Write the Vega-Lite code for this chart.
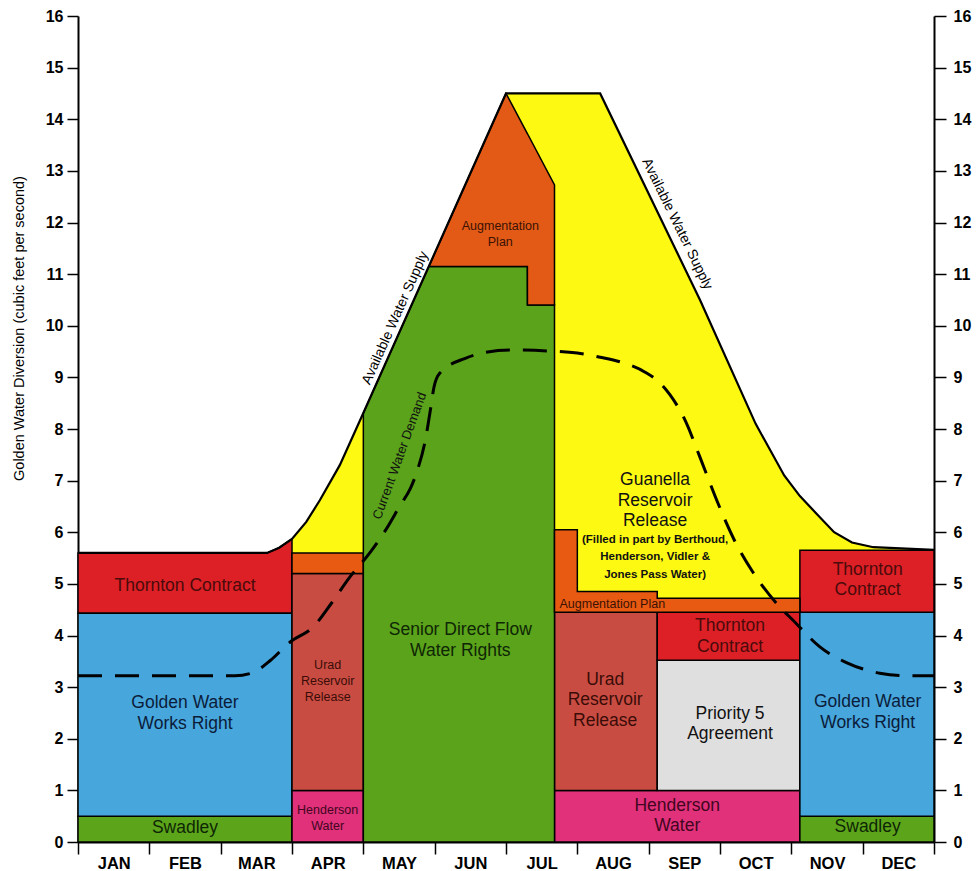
{
  "$schema": "https://vega.github.io/schema/vega-lite/v6.json",
  "width": 856,
  "height": 826,
  "autosize": {"type": "none"},
  "padding": {"left": 78, "top": 16, "right": 42, "bottom": 29},
  "background": "white",
  "config": {"view": {"stroke": null}, "font": "Liberation Sans"},
  "datasets": {
    "supply": [
      {"x": 0, "y": 5.6}, {"x": 2.65, "y": 5.6}, {"x": 2.82, "y": 5.7}, {"x": 3, "y": 5.87},
      {"x": 3.2, "y": 6.2}, {"x": 3.39, "y": 6.62}, {"x": 3.67, "y": 7.3}, {"x": 4, "y": 8.31},
      {"x": 6, "y": 14.5}, {"x": 7.32, "y": 14.5}, {"x": 8.72, "y": 10.5}, {"x": 9.5, "y": 8.1},
      {"x": 9.9, "y": 7.1}, {"x": 10.12, "y": 6.7}, {"x": 10.36, "y": 6.35}, {"x": 10.6, "y": 6.0},
      {"x": 10.85, "y": 5.8}, {"x": 11.15, "y": 5.71}, {"x": 12, "y": 5.66}
    ],
    "rects": [
      {"region": "Swadley", "x0": 0, "x1": 3, "y0": 0, "y1": 0.5},
      {"region": "Golden", "x0": 0, "x1": 3, "y0": 0.5, "y1": 4.43},
      {"region": "Henderson", "x0": 3, "x1": 4, "y0": 0, "y1": 1},
      {"region": "Urad", "x0": 3, "x1": 4, "y0": 1, "y1": 5.2},
      {"region": "Aug", "x0": 3, "x1": 4, "y0": 5.2, "y1": 5.6},
      {"region": "Henderson", "x0": 6.68, "x1": 10.12, "y0": 0, "y1": 1},
      {"region": "Urad", "x0": 6.68, "x1": 8.12, "y0": 1, "y1": 4.45},
      {"region": "Priority", "x0": 8.12, "x1": 10.12, "y0": 1, "y1": 3.52},
      {"region": "Thornton", "x0": 8.12, "x1": 10.12, "y0": 3.52, "y1": 4.45},
      {"region": "Swadley", "x0": 10.12, "x1": 12, "y0": 0, "y1": 0.5},
      {"region": "Golden", "x0": 10.12, "x1": 12, "y0": 0.5, "y1": 4.45},
      {"region": "Thornton", "x0": 10.12, "x1": 12, "y0": 4.45, "y1": 5.65}
    ],
    "senior": [
      {"x": 4, "y": 8.31}, {"x": 4.92, "y": 11.15}, {"x": 6.3, "y": 11.15},
      {"x": 6.301, "y": 10.4}, {"x": 6.68, "y": 10.4}
    ],
    "augJun": [
      {"x": 4.92, "top": 11.15, "bottom": 11.15},
      {"x": 6, "top": 14.5, "bottom": 11.15},
      {"x": 6.3, "top": 13.72, "bottom": 11.15},
      {"x": 6.301, "top": 13.72, "bottom": 10.4},
      {"x": 6.68, "top": 12.73, "bottom": 10.4}
    ],
    "augAug": [
      {"x": 6.68, "top": 6.05}, {"x": 7.0, "top": 4.85}, {"x": 8.12, "top": 4.72}, {"x": 10.12, "top": 4.72}
    ],
    "demand": [
      {"x": 0, "y": 3.22}, {"x": 2.2, "y": 3.22}, {"x": 2.45, "y": 3.28}, {"x": 2.7, "y": 3.52},
      {"x": 2.97, "y": 3.87}, {"x": 3.3, "y": 4.17}, {"x": 3.55, "y": 4.62}, {"x": 3.81, "y": 5.13},
      {"x": 4.09, "y": 5.6}, {"x": 4.33, "y": 6.08}, {"x": 4.52, "y": 6.53}, {"x": 4.66, "y": 6.85},
      {"x": 4.76, "y": 7.21}, {"x": 4.87, "y": 7.79}, {"x": 4.94, "y": 8.37}, {"x": 4.99, "y": 8.81},
      {"x": 5.07, "y": 9.08}, {"x": 5.43, "y": 9.37}, {"x": 5.7, "y": 9.48}, {"x": 6.06, "y": 9.53},
      {"x": 6.62, "y": 9.51}, {"x": 7.0, "y": 9.47}, {"x": 7.32, "y": 9.39}, {"x": 7.6, "y": 9.3},
      {"x": 7.95, "y": 9.1}, {"x": 8.16, "y": 8.89}, {"x": 8.3, "y": 8.66}, {"x": 8.5, "y": 8.2},
      {"x": 8.72, "y": 7.45}, {"x": 8.96, "y": 6.6}, {"x": 9.2, "y": 5.85}, {"x": 9.46, "y": 5.23},
      {"x": 9.84, "y": 4.55}, {"x": 10.02, "y": 4.3}, {"x": 10.4, "y": 3.78}, {"x": 10.78, "y": 3.47},
      {"x": 11.24, "y": 3.27}, {"x": 11.6, "y": 3.22}, {"x": 12, "y": 3.22}
    ],
    "labelsL": [
      {"t": "Thornton Contract", "x": 1.5, "y": 4.96, "tone": "red"},
      {"t": "Golden Water\nWorks Right", "x": 1.5, "y": 2.69, "tone": "blue"},
      {"t": "Swadley", "x": 1.5, "y": 0.27, "tone": "green"},
      {"t": "Senior Direct Flow\nWater Rights", "x": 5.36, "y": 4.1, "tone": "green"},
      {"t": "Guanella\nReservoir\nRelease", "x": 8.09, "y": 7.01, "tone": "black"},
      {"t": "Urad\nReservoir\nRelease", "x": 7.39, "y": 3.14, "tone": "urad"},
      {"t": "Thornton\nContract", "x": 9.14, "y": 4.18, "tone": "red"},
      {"t": "Priority 5\nAgreement", "x": 9.14, "y": 2.48, "tone": "black"},
      {"t": "Henderson\nWater", "x": 8.4, "y": 0.7, "tone": "pink"},
      {"t": "Thornton\nContract", "x": 11.07, "y": 5.27, "tone": "red"},
      {"t": "Golden Water\nWorks Right", "x": 11.07, "y": 2.71, "tone": "blue"},
      {"t": "Swadley", "x": 11.07, "y": 0.29, "tone": "green"}
    ],
    "labelsM": [
      {"t": "Augmentation\nPlan", "x": 5.92, "y": 11.93, "tone": "orange"},
      {"t": "Urad\nReservoir\nRelease", "x": 3.5, "y": 3.43, "tone": "urad"},
      {"t": "Henderson\nWater", "x": 3.5, "y": 0.62, "tone": "pink"},
      {"t": "Augmentation Plan", "x": 7.49, "y": 4.61, "tone": "orange"}
    ],
    "labelsS": [
      {"t": "(Filled in part by Berthoud,\nHenderson, Vidler &\nJones Pass Water)", "x": 8.09, "y": 5.85, "tone": "black"}
    ],
    "supplyLeft": [{"t": "Available Water Supply", "x": 4.45, "y": 10.15}],
    "supplyRight": [{"t": "Available Water Supply", "x": 8.4, "y": 11.97}],
    "demandLabel": [{"t": "Current   Water   Demand", "x": 4.51, "y": 7.48}]
  },
  "layer": [
    {
      "data": {"name": "supply"},
      "transform": [{"filter": "datum.x >= 3"}],
      "mark": {"type": "area", "fill": "#fdf913", "stroke": null},
      "encoding": {
        "x": {"field": "x", "type": "quantitative", "scale": {"domain": [0, 12], "nice": false, "zero": false},
          "axis": {"values": [0, 1, 2, 3, 4, 5, 6, 7, 8, 9, 10, 11, 12],
            "labelExpr": "datum.value < 12 ? ['JAN','FEB','MAR','APR','MAY','JUN','JUL','AUG','SEP','OCT','NOV','DEC'][datum.value] : ''",
            "labelOffset": 35.7, "labelFlush": false, "labelOverlap": false, "tickSize": 12, "tickWidth": 1.5, "tickColor": "black",
            "domainColor": "black", "domainWidth": 2, "labelFontSize": 16.5, "labelFontWeight": "bold", "labelColor": "black",
            "labelPadding": 1, "grid": false, "title": null}},
        "y": {"field": "y", "type": "quantitative", "stack": null, "scale": {"domain": [0, 16], "nice": false},
          "axis": {"orient": "left", "values": [0, 1, 2, 3, 4, 5, 6, 7, 8, 9, 10, 11, 12, 13, 14, 15, 16],
            "tickSize": 11, "tickWidth": 1.5, "tickColor": "black", "domainColor": "black", "domainWidth": 2,
            "labelFontSize": 16, "labelFontWeight": "bold", "labelColor": "black", "labelPadding": 4, "grid": false,
            "title": "Golden Water Diversion (cubic feet per second)", "titleFontSize": 14.5, "titleFontWeight": "normal",
            "titleColor": "black", "titleAngle": 270, "titleAlign": "center", "titleBaseline": "middle", "titleX": -59, "titleY": 312}},
        "y2": {"datum": 0}
      }
    },
    {
      "data": {"name": "supply"},
      "transform": [{"filter": "datum.x <= 3"}],
      "mark": {"type": "area", "fill": "#dd1f26", "stroke": "black", "strokeWidth": 1.5},
      "encoding": {
        "x": {"field": "x", "type": "quantitative"},
        "y": {"field": "y", "type": "quantitative", "stack": null, "axis": null},
        "y2": {"datum": 4.43}
      }
    },
    {
      "data": {"name": "rects"},
      "mark": {"type": "rect", "stroke": "black", "strokeWidth": 1.5},
      "encoding": {
        "x": {"field": "x0", "type": "quantitative"},
        "x2": {"field": "x1"},
        "y": {"field": "y0", "type": "quantitative", "axis": null},
        "y2": {"field": "y1"},
        "fill": {"field": "region", "type": "nominal", "legend": null,
          "scale": {"domain": ["Swadley", "Golden", "Thornton", "Urad", "Henderson", "Aug", "Priority"],
            "range": ["#5ca51b", "#47a6dc", "#dd1f26", "#c94c42", "#e0317a", "#e85a12", "#dfdfdf"]}}
      }
    },
    {
      "data": {"name": "senior"},
      "mark": {"type": "area", "fill": "#5aa31b", "stroke": "black", "strokeWidth": 1.5},
      "encoding": {
        "x": {"field": "x", "type": "quantitative"},
        "y": {"field": "y", "type": "quantitative", "stack": null, "axis": null},
        "y2": {"datum": 0}
      }
    },
    {
      "data": {"name": "augJun"},
      "mark": {"type": "area", "fill": "#e35a16", "stroke": "black", "strokeWidth": 1.5},
      "encoding": {
        "x": {"field": "x", "type": "quantitative"},
        "y": {"field": "top", "type": "quantitative", "stack": null, "axis": null},
        "y2": {"field": "bottom"}
      }
    },
    {
      "data": {"name": "augAug"},
      "mark": {"type": "area", "interpolate": "step-after", "fill": "#e85a12", "stroke": "black", "strokeWidth": 1.5},
      "encoding": {
        "x": {"field": "x", "type": "quantitative"},
        "y": {"field": "top", "type": "quantitative", "stack": null, "axis": null},
        "y2": {"datum": 4.45}
      }
    },
    {
      "data": {"name": "supply"},
      "mark": {"type": "line", "color": "black", "strokeWidth": 2.2},
      "encoding": {
        "x": {"field": "x", "type": "quantitative"},
        "y": {"field": "y", "type": "quantitative",
          "axis": {"orient": "right", "values": [0, 1, 2, 3, 4, 5, 6, 7, 8, 9, 10, 11, 12, 13, 14, 15, 16],
            "tickSize": 12, "tickWidth": 1.5, "tickColor": "black", "domainColor": "black", "domainWidth": 2,
            "labelFontSize": 16, "labelFontWeight": "bold", "labelColor": "black", "labelPadding": 7, "grid": false, "title": null}}
      }
    },
    {
      "data": {"name": "demand"},
      "mark": {"type": "line", "color": "black", "strokeWidth": 3, "strokeDash": [24, 13], "interpolate": "monotone"},
      "encoding": {
        "x": {"field": "x", "type": "quantitative"},
        "y": {"field": "y", "type": "quantitative", "axis": null}
      }
    },
    {
      "data": {"name": "labelsL"},
      "mark": {"type": "text", "fontSize": 17.5, "lineBreak": "\n", "lineHeight": 20.5, "align": "center", "baseline": "middle"},
      "encoding": {
        "x": {"field": "x", "type": "quantitative"},
        "y": {"field": "y", "type": "quantitative", "axis": null},
        "text": {"field": "t", "type": "nominal"},
        "color": {"field": "tone", "type": "nominal", "legend": null,
          "scale": {"domain": ["red", "blue", "green", "urad", "pink", "orange", "black"],
            "range": ["#4a0b0b", "#0b1c3a", "#0f2605", "#3a0c08", "#420620", "#3a1205", "#111111"]}}
      }
    },
    {
      "data": {"name": "labelsM"},
      "mark": {"type": "text", "fontSize": 12.5, "lineBreak": "\n", "lineHeight": 16, "align": "center", "baseline": "middle"},
      "encoding": {
        "x": {"field": "x", "type": "quantitative"},
        "y": {"field": "y", "type": "quantitative", "axis": null},
        "text": {"field": "t", "type": "nominal"},
        "color": {"field": "tone", "type": "nominal", "legend": null}
      }
    },
    {
      "data": {"name": "labelsS"},
      "mark": {"type": "text", "fontSize": 11.5, "fontWeight": "bold", "lineBreak": "\n", "lineHeight": 17.5, "align": "center", "baseline": "middle"},
      "encoding": {
        "x": {"field": "x", "type": "quantitative"},
        "y": {"field": "y", "type": "quantitative", "axis": null},
        "text": {"field": "t", "type": "nominal"},
        "color": {"field": "tone", "type": "nominal", "legend": null}
      }
    },
    {
      "data": {"name": "supplyLeft"},
      "mark": {"type": "text", "fontSize": 14, "angle": -66, "align": "center", "baseline": "middle", "color": "black"},
      "encoding": {
        "x": {"field": "x", "type": "quantitative"},
        "y": {"field": "y", "type": "quantitative", "axis": null},
        "text": {"field": "t", "type": "nominal"}
      }
    },
    {
      "data": {"name": "supplyRight"},
      "mark": {"type": "text", "fontSize": 14, "angle": 64, "align": "center", "baseline": "middle", "color": "black"},
      "encoding": {
        "x": {"field": "x", "type": "quantitative"},
        "y": {"field": "y", "type": "quantitative", "axis": null},
        "text": {"field": "t", "type": "nominal"}
      }
    },
    {
      "data": {"name": "demandLabel"},
      "mark": {"type": "text", "fontSize": 13, "angle": -70, "align": "center", "baseline": "middle", "color": "#111111"},
      "encoding": {
        "x": {"field": "x", "type": "quantitative"},
        "y": {"field": "y", "type": "quantitative", "axis": null},
        "text": {"field": "t", "type": "nominal"}
      }
    }
  ],
  "resolve": {"axis": {"y": "independent"}}
}
